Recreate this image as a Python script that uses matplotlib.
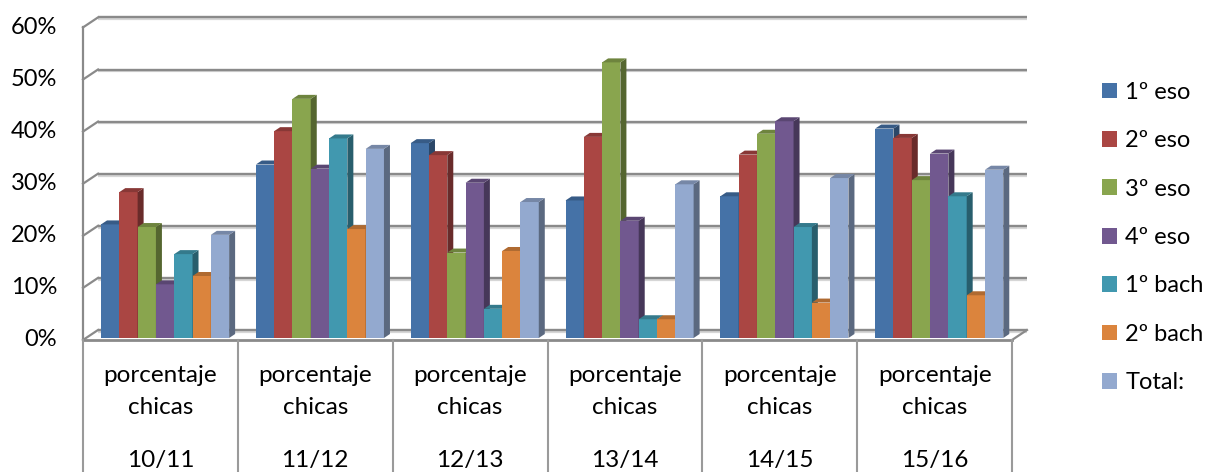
import matplotlib.pyplot as plt
from matplotlib.patches import Polygon, Patch
import numpy as np

plt.rcParams['font.family'] = ['Lato', 'DejaVu Sans']

years = ["10/11", "11/12", "12/13", "13/14", "14/15", "15/16"]
series_names = ["1º eso", "2º eso", "3º eso", "4º eso", "1º bach", "2º bach", "Total:"]

eso1 = [21.8, 33.3, 37.4, 26.4, 27.2, 40.2]
eso2 = [28.0, 39.7, 35.1, 38.6, 35.2, 38.4]
eso3 = [21.3, 45.9, 16.4, 52.9, 39.2, 30.3]
eso4 = [10.3, 32.5, 29.8, 22.5, 41.6, 35.4]
bach1 = [16.1, 38.3, 5.6, 3.6, 21.3, 27.2]
bach2 = [11.9, 20.9, 16.7, 3.6, 6.8, 8.2]
total = [19.8, 36.3, 26.1, 29.5, 30.7, 32.3]

series = [eso1, eso2, eso3, eso4, bach1, bach2, total]
colors = ['#4572A7', '#AA4643', '#89A54E', '#71588F', '#4198AF', '#DB843D', '#93A9CF']

W, H = 1209, 472
fig = plt.figure(figsize=(W / 100, H / 100), dpi=100)

# pixel scales of the chart
px_x = (1012 - 83) / 6.0     # px per category
px_y = 5.21                  # px per 1 %
DX = 15 / px_x               # depth of floor, data units
DY = 10 / px_y

ax_w = 947
ax_h = 330
ax = fig.add_axes([83 / W, (H - 340) / H, ax_w / W, ax_h / H])
ax.set_xlim(0, ax_w / px_x)
ax.set_ylim(0, ax_h / px_y)
ax.axis('off')

grid_c = '#8a8a8a'
shadow_c = '#d6d6d6'
x_back_end = 6 + DX

# gridlines on back wall and left wall
for v in range(0, 70, 10):
    ax.plot([DX, x_back_end], [v + DY - 0.35, v + DY - 0.35], color=shadow_c, lw=1.6,
            zorder=1, clip_on=False, solid_capstyle='butt')
    ax.plot([DX, x_back_end], [v + DY, v + DY], color=grid_c, lw=1.7,
            zorder=2, clip_on=False, solid_capstyle='butt')
    ax.plot([0, DX], [v, v + DY], color=grid_c, lw=1.6, zorder=2, clip_on=False)

# left axis front edge and floor edges
ax.plot([0, 0], [0, 60], color=grid_c, lw=1.6, zorder=2, clip_on=False)
ax.plot([0, 6], [0, 0], color=grid_c, lw=2, zorder=2, clip_on=False)
ax.plot([6, x_back_end], [0, DY], color=grid_c, lw=1.6, zorder=2, clip_on=False)

# category dividers below floor
for i in range(7):
    ax.plot([i, i], [0, -(H - 340) / px_y], color='#9a9a9a', lw=1.5, clip_on=False, zorder=2)


def shade(c, f):
    r, g, b = [int(c[k:k + 2], 16) / 255 for k in (1, 3, 5)]
    return (r * f, g * f, b * f)


bw = 18.3 / px_x
f0, f1 = 0.2, 0.6
ddx = (f1 - f0) * DX
ddy = (f1 - f0) * DY
y0 = f0 * DY

z = 5
for i in range(len(years)):
    for k, vals in enumerate(series):
        v = vals[i]
        xl = i + 0.097 + k * bw + f0 * DX
        xr = xl + bw
        c = colors[k]
        ax.bar(xl, v, width=bw, bottom=y0, align='edge', color=c, zorder=z, linewidth=0)
        side = Polygon([(xr, y0), (xr, y0 + v), (xr + ddx, y0 + v + ddy), (xr + ddx, y0 + ddy)],
                       closed=True, facecolor=shade(c, 0.62), edgecolor='none', zorder=z)
        top = Polygon([(xl, y0 + v), (xr, y0 + v), (xr + ddx, y0 + v + ddy), (xl + ddx, y0 + v + ddy)],
                      closed=True, facecolor=shade(c, 0.8), edgecolor='none', zorder=z)
        ax.add_patch(side)
        ax.add_patch(top)
        z += 1

# y tick labels
for v in range(0, 70, 10):
    ax.text(-26 / px_x, v, f"{v}%", ha='right', va='center', fontsize=17, clip_on=False)

# category labels
for i, yr in enumerate(years):
    ax.text(i + 0.5, -36 / px_y, "porcentaje", ha='center', va='center', fontsize=17.5)
    ax.text(i + 0.5, -67 / px_y, "chicas", ha='center', va='center', fontsize=17.5)
    ax.text(i + 0.5, -120 / px_y, yr, ha='center', va='center', fontsize=17.5)

handles = [Patch(facecolor=c, edgecolor='none') for c in colors]
fig.legend(handles, series_names, loc='upper left', bbox_to_anchor=(1090 / W, 1 - 70 / H),
           frameon=False, fontsize=17, handlelength=0.65, handleheight=0.65,
           handletextpad=0.35, labelspacing=1.16, borderpad=0)

fig.savefig("out.png", dpi=100)
